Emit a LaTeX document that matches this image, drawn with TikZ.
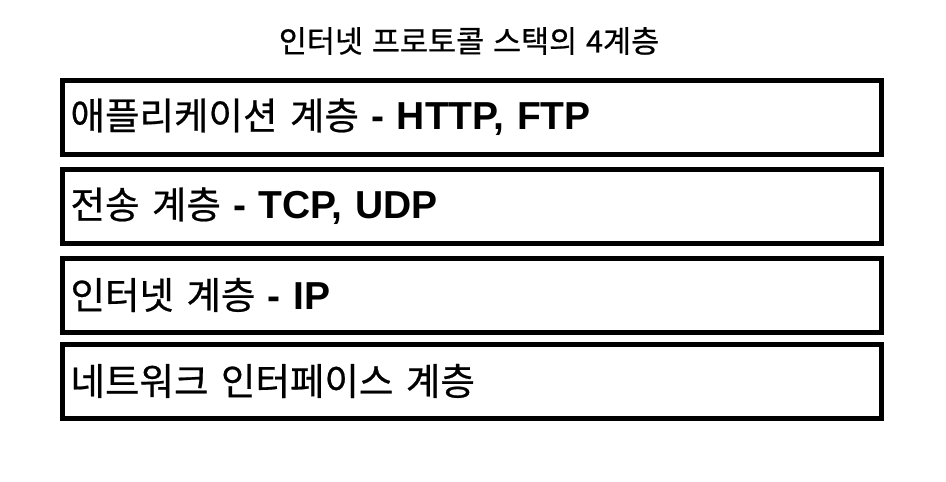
\documentclass[tikz,border=0pt]{standalone}
\usepackage{fontspec}
\setmainfont{Noto Sans CJK KR}[FakeBold=0.6, WordSpace=1.3]
\newfontfamily\latinbf{Liberation Sans}[Scale=1.04]
\usetikzlibrary{positioning}

\newcommand{\proto}[1]{{\latinbf\bfseries #1}}

\begin{document}
\begin{tikzpicture}[x=1pt, y=-1pt,
  layer/.style={draw, line width=5pt, minimum width=819pt, minimum height=74pt,
    text width=803pt, align=left, inner xsep=8pt, font=\fontsize{37.5}{44}\selectfont},
  caption/.style={font=\fontsize{30.5}{36}\selectfont}]

  \useasboundingbox (0,0) rectangle (946,482);

  % Define nodes
  \node[layer]                       (app)  at (472,117) {애플리케이션 계층 \proto{- HTTP, FTP}};
  \node[layer, below=10pt of app]    (tr)   {전송 계층 \proto{- TCP, UDP}};
  \node[layer, below=10pt of tr]     (inet) {인터넷 계층 \proto{- IP}};
  \node[layer, below=7pt of inet]    (nif)  {네트워크 인터페이스 계층};
  \node[caption]                     (ttl)  at (469,41) {인터넷 프로토콜 스택의 4계층};

\end{tikzpicture}
\end{document}
